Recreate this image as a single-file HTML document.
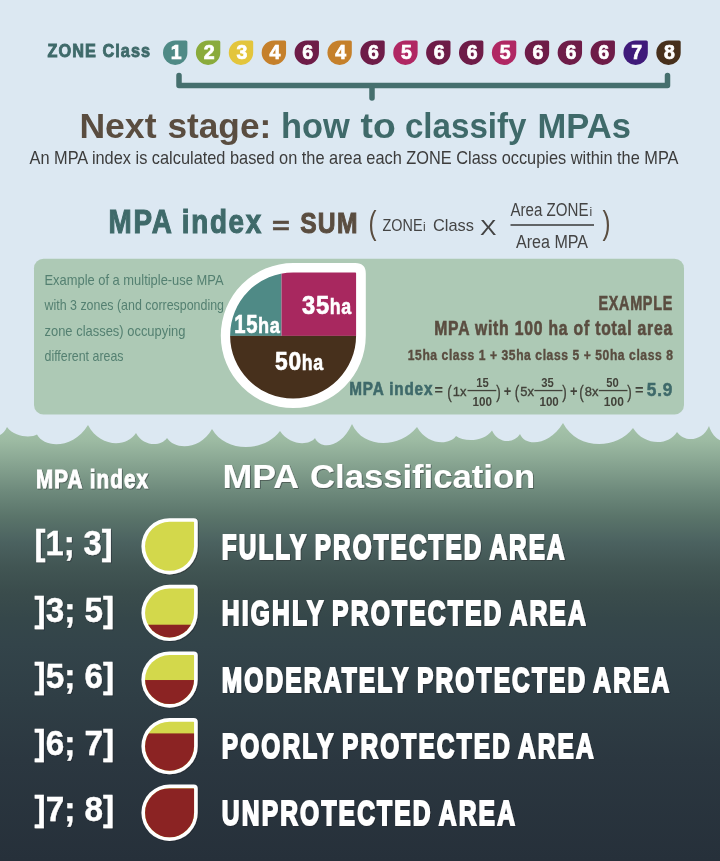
<!DOCTYPE html>
<html lang="en"><head><meta charset="utf-8"><title>MPA Classification</title>
<style>
html,body{margin:0;padding:0;background:#dce8f2;}
body{width:720px;height:861px;overflow:hidden;}
svg{display:block;font-family:"Liberation Sans",sans-serif;}
</style></head><body>
<svg width="720" height="861" viewBox="0 0 720 861">
<rect width="720" height="861" fill="#dce8f2"/>
<text x="47.6" y="56.8" font-size="18.6" font-weight="700" fill="#3f6a6a" text-anchor="start" textLength="103.5" lengthAdjust="spacingAndGlyphs" stroke="#3f6a6a" stroke-width="0.9" letter-spacing="1.2">ZONE Class</text>
<path d="M175.2,40.5 H185.89999999999998 Q187.39999999999998,40.5 187.39999999999998,42.0 V52.7 A12.2,12.2 0 0 1 175.2,64.9 A12.2,12.2 0 0 1 163.0,52.7 A12.2,12.2 0 0 1 175.2,40.5 Z" fill="#4f8a86"/>
<text x="176.2" y="58.6" font-size="19.5" font-weight="700" fill="#fff" text-anchor="middle" stroke="#fff" stroke-width="0.7">1</text>
<path d="M208.09,40.5 H218.79 Q220.29,40.5 220.29,42.0 V52.7 A12.2,12.2 0 0 1 208.09,64.9 A12.2,12.2 0 0 1 195.89000000000001,52.7 A12.2,12.2 0 0 1 208.09,40.5 Z" fill="#8aab3c"/>
<text x="209.09" y="58.6" font-size="19.5" font-weight="700" fill="#fff" text-anchor="middle" stroke="#fff" stroke-width="0.7">2</text>
<path d="M240.97,40.5 H251.67 Q253.17,40.5 253.17,42.0 V52.7 A12.2,12.2 0 0 1 240.97,64.9 A12.2,12.2 0 0 1 228.77,52.7 A12.2,12.2 0 0 1 240.97,40.5 Z" fill="#e3c53c"/>
<text x="241.97" y="58.6" font-size="19.5" font-weight="700" fill="#fff" text-anchor="middle" stroke="#fff" stroke-width="0.7">3</text>
<path d="M273.86,40.5 H284.56 Q286.06,40.5 286.06,42.0 V52.7 A12.2,12.2 0 0 1 273.86,64.9 A12.2,12.2 0 0 1 261.66,52.7 A12.2,12.2 0 0 1 273.86,40.5 Z" fill="#c5802b"/>
<text x="274.86" y="58.6" font-size="19.5" font-weight="700" fill="#fff" text-anchor="middle" stroke="#fff" stroke-width="0.7">4</text>
<path d="M306.75,40.5 H317.45 Q318.95,40.5 318.95,42.0 V52.7 A12.2,12.2 0 0 1 306.75,64.9 A12.2,12.2 0 0 1 294.55,52.7 A12.2,12.2 0 0 1 306.75,40.5 Z" fill="#6e1c48"/>
<text x="307.75" y="58.6" font-size="19.5" font-weight="700" fill="#fff" text-anchor="middle" stroke="#fff" stroke-width="0.7">6</text>
<path d="M339.63,40.5 H350.33 Q351.83,40.5 351.83,42.0 V52.7 A12.2,12.2 0 0 1 339.63,64.9 A12.2,12.2 0 0 1 327.43,52.7 A12.2,12.2 0 0 1 339.63,40.5 Z" fill="#c5802b"/>
<text x="340.63" y="58.6" font-size="19.5" font-weight="700" fill="#fff" text-anchor="middle" stroke="#fff" stroke-width="0.7">4</text>
<path d="M372.52,40.5 H383.21999999999997 Q384.71999999999997,40.5 384.71999999999997,42.0 V52.7 A12.2,12.2 0 0 1 372.52,64.9 A12.2,12.2 0 0 1 360.32,52.7 A12.2,12.2 0 0 1 372.52,40.5 Z" fill="#6e1c48"/>
<text x="373.52" y="58.6" font-size="19.5" font-weight="700" fill="#fff" text-anchor="middle" stroke="#fff" stroke-width="0.7">6</text>
<path d="M405.41,40.5 H416.11 Q417.61,40.5 417.61,42.0 V52.7 A12.2,12.2 0 0 1 405.41,64.9 A12.2,12.2 0 0 1 393.21000000000004,52.7 A12.2,12.2 0 0 1 405.41,40.5 Z" fill="#b02763"/>
<text x="406.41" y="58.6" font-size="19.5" font-weight="700" fill="#fff" text-anchor="middle" stroke="#fff" stroke-width="0.7">5</text>
<path d="M438.29,40.5 H448.99 Q450.49,40.5 450.49,42.0 V52.7 A12.2,12.2 0 0 1 438.29,64.9 A12.2,12.2 0 0 1 426.09000000000003,52.7 A12.2,12.2 0 0 1 438.29,40.5 Z" fill="#6e1c48"/>
<text x="439.29" y="58.6" font-size="19.5" font-weight="700" fill="#fff" text-anchor="middle" stroke="#fff" stroke-width="0.7">6</text>
<path d="M471.18,40.5 H481.88 Q483.38,40.5 483.38,42.0 V52.7 A12.2,12.2 0 0 1 471.18,64.9 A12.2,12.2 0 0 1 458.98,52.7 A12.2,12.2 0 0 1 471.18,40.5 Z" fill="#6e1c48"/>
<text x="472.18" y="58.6" font-size="19.5" font-weight="700" fill="#fff" text-anchor="middle" stroke="#fff" stroke-width="0.7">6</text>
<path d="M504.07,40.5 H514.77 Q516.27,40.5 516.27,42.0 V52.7 A12.2,12.2 0 0 1 504.07,64.9 A12.2,12.2 0 0 1 491.87,52.7 A12.2,12.2 0 0 1 504.07,40.5 Z" fill="#b02763"/>
<text x="505.07" y="58.6" font-size="19.5" font-weight="700" fill="#fff" text-anchor="middle" stroke="#fff" stroke-width="0.7">5</text>
<path d="M536.95,40.5 H547.6500000000001 Q549.1500000000001,40.5 549.1500000000001,42.0 V52.7 A12.2,12.2 0 0 1 536.95,64.9 A12.2,12.2 0 0 1 524.75,52.7 A12.2,12.2 0 0 1 536.95,40.5 Z" fill="#6e1c48"/>
<text x="537.95" y="58.6" font-size="19.5" font-weight="700" fill="#fff" text-anchor="middle" stroke="#fff" stroke-width="0.7">6</text>
<path d="M569.84,40.5 H580.5400000000001 Q582.0400000000001,40.5 582.0400000000001,42.0 V52.7 A12.2,12.2 0 0 1 569.84,64.9 A12.2,12.2 0 0 1 557.64,52.7 A12.2,12.2 0 0 1 569.84,40.5 Z" fill="#6e1c48"/>
<text x="570.84" y="58.6" font-size="19.5" font-weight="700" fill="#fff" text-anchor="middle" stroke="#fff" stroke-width="0.7">6</text>
<path d="M602.73,40.5 H613.4300000000001 Q614.9300000000001,40.5 614.9300000000001,42.0 V52.7 A12.2,12.2 0 0 1 602.73,64.9 A12.2,12.2 0 0 1 590.53,52.7 A12.2,12.2 0 0 1 602.73,40.5 Z" fill="#6e1c48"/>
<text x="603.73" y="58.6" font-size="19.5" font-weight="700" fill="#fff" text-anchor="middle" stroke="#fff" stroke-width="0.7">6</text>
<path d="M635.61,40.5 H646.3100000000001 Q647.8100000000001,40.5 647.8100000000001,42.0 V52.7 A12.2,12.2 0 0 1 635.61,64.9 A12.2,12.2 0 0 1 623.41,52.7 A12.2,12.2 0 0 1 635.61,40.5 Z" fill="#3f1a7a"/>
<text x="636.61" y="58.6" font-size="19.5" font-weight="700" fill="#fff" text-anchor="middle" stroke="#fff" stroke-width="0.7">7</text>
<path d="M668.5,40.5 H679.2 Q680.7,40.5 680.7,42.0 V52.7 A12.2,12.2 0 0 1 668.5,64.9 A12.2,12.2 0 0 1 656.3,52.7 A12.2,12.2 0 0 1 668.5,40.5 Z" fill="#47301c"/>
<text x="669.5" y="58.6" font-size="19.5" font-weight="700" fill="#fff" text-anchor="middle" stroke="#fff" stroke-width="0.7">8</text>
<path d="M179,75.5 V85.5 H667.5 V75.5 M372,85.5 V98" fill="none" stroke="#456f6e" stroke-width="5.5" stroke-linecap="round" stroke-linejoin="round"/>
<text x="79.4" y="137.5" font-size="35" font-weight="700" fill="#5a4d40" text-anchor="start" textLength="77.1" lengthAdjust="spacingAndGlyphs">Next</text>
<text x="167.45" y="137.5" font-size="35" font-weight="700" fill="#5a4d40" text-anchor="start" textLength="103.8" lengthAdjust="spacingAndGlyphs">stage:</text>
<text x="280.95" y="137.5" font-size="35" font-weight="700" fill="#3f6a6a" text-anchor="start" textLength="68.85" lengthAdjust="spacingAndGlyphs">how</text>
<text x="360.55" y="137.5" font-size="35" font-weight="700" fill="#3f6a6a" text-anchor="start" textLength="35.25" lengthAdjust="spacingAndGlyphs">to</text>
<text x="404.95" y="137.5" font-size="35" font-weight="700" fill="#3f6a6a" text-anchor="start" textLength="121.6" lengthAdjust="spacingAndGlyphs">classify</text>
<text x="537.5" y="137.5" font-size="35" font-weight="700" fill="#3f6a6a" text-anchor="start" textLength="93.5" lengthAdjust="spacingAndGlyphs">MPAs</text>
<text x="29.5" y="163.5" font-size="18.5" font-weight="400" fill="#3c3c3c" text-anchor="start" textLength="649" lengthAdjust="spacingAndGlyphs">An MPA index is calculated based on the area each ZONE Class occupies within the MPA</text>
<text x="108.6" y="233" font-size="33" font-weight="700" fill="#3f6a6a" text-anchor="start" textLength="154.3" lengthAdjust="spacingAndGlyphs" stroke="#3f6a6a" stroke-width="1.1" letter-spacing="2">MPA index</text>
<text x="272" y="234.4" font-size="24" font-weight="700" fill="#5a4d40" text-anchor="start" textLength="17.8" lengthAdjust="spacingAndGlyphs" stroke="#5a4d40" stroke-width="0.5">=</text>
<text x="300.2" y="233" font-size="29" font-weight="700" fill="#5a4d40" text-anchor="start" textLength="58.5" lengthAdjust="spacingAndGlyphs" stroke="#5a4d40" stroke-width="1.0" letter-spacing="1.5">SUM</text>
<text x="368.5" y="234" font-size="34" font-weight="400" fill="#5a4d40" text-anchor="start" textLength="8" lengthAdjust="spacingAndGlyphs">(</text>
<text x="382.5" y="231" font-size="17" font-weight="400" fill="#444" text-anchor="start" textLength="40" lengthAdjust="spacingAndGlyphs">ZONE</text>
<text x="423" y="231" font-size="12" font-weight="400" fill="#444" text-anchor="start">i</text>
<text x="433" y="231" font-size="17" font-weight="400" fill="#444" text-anchor="start" textLength="41" lengthAdjust="spacingAndGlyphs">Class</text>
<text x="480" y="234.5" font-size="22" font-weight="400" fill="#444" text-anchor="start" textLength="16.5" lengthAdjust="spacingAndGlyphs">X</text>
<text x="510.5" y="216" font-size="18" font-weight="400" fill="#444" text-anchor="start" textLength="78" lengthAdjust="spacingAndGlyphs">Area ZONE</text>
<text x="589.5" y="216" font-size="12" font-weight="400" fill="#444" text-anchor="start">i</text>
<rect x="510.5" y="224.2" width="83.5" height="1.6" fill="#444"/>
<text x="516" y="247.5" font-size="18" font-weight="400" fill="#444" text-anchor="start" textLength="72" lengthAdjust="spacingAndGlyphs">Area MPA</text>
<text x="602.5" y="234" font-size="34" font-weight="400" fill="#5a4d40" text-anchor="start" textLength="8" lengthAdjust="spacingAndGlyphs">)</text>
<rect x="34" y="258.8" width="650" height="155.7" rx="9.5" fill="#adc9b5"/>
<text x="44.5" y="285" font-size="14.5" font-weight="400" fill="#548071" text-anchor="start" textLength="179" lengthAdjust="spacingAndGlyphs">Example of a multiple-use MPA</text>
<text x="44.5" y="310.3" font-size="14.5" font-weight="400" fill="#548071" text-anchor="start" textLength="179.5" lengthAdjust="spacingAndGlyphs">with 3 zones (and corresponding</text>
<text x="44.5" y="335.8" font-size="14.5" font-weight="400" fill="#548071" text-anchor="start" textLength="141" lengthAdjust="spacingAndGlyphs">zone classes) occupying</text>
<text x="44.5" y="360.8" font-size="14.5" font-weight="400" fill="#548071" text-anchor="start" textLength="79" lengthAdjust="spacingAndGlyphs">different areas</text>
<path d="M293.3,263.05 H355.3 Q365.8,263.05 365.8,273.55 V335.55 A72.5,72.5 0 0 1 293.3,408.05 A72.5,72.5 0 0 1 220.8,335.55 A72.5,72.5 0 0 1 293.3,263.05 Z" fill="#fff"/>
<clipPath id="pc"><path d="M293.1,272.5 H355.3 Q356.1,272.5 356.1,273.3 V335.5 A63.0,63.0 0 0 1 293.1,398.5 A63.0,63.0 0 0 1 230.10000000000002,335.5 A63.0,63.0 0 0 1 293.1,272.5 Z"/></clipPath>
<g clip-path="url(#pc)">
<rect x="220" y="260" width="61.5" height="75.9" fill="#4f8a86"/>
<rect x="281.5" y="260" width="90" height="75.9" fill="#a8285f"/>
<rect x="220" y="335.9" width="150" height="75" fill="#47301c"/>
</g>
<text x="302" y="313.6" font-size="25.5" font-weight="700" fill="#fff" text-anchor="start" textLength="27.8" lengthAdjust="spacingAndGlyphs" stroke="#fff" stroke-width="0.7" letter-spacing="0.8">35</text>
<text x="329.8" y="313.6" font-size="22.5" font-weight="700" fill="#fff" text-anchor="start" textLength="22.0" lengthAdjust="spacingAndGlyphs" stroke="#fff" stroke-width="0.6" letter-spacing="0.8">ha</text>
<text x="234.3" y="333" font-size="25.5" font-weight="700" fill="#fff" text-anchor="start" textLength="23.8" lengthAdjust="spacingAndGlyphs" stroke="#fff" stroke-width="0.7" letter-spacing="0.8">15</text>
<text x="258.1" y="333" font-size="22.5" font-weight="700" fill="#fff" text-anchor="start" textLength="22.5" lengthAdjust="spacingAndGlyphs" stroke="#fff" stroke-width="0.6" letter-spacing="0.8">ha</text>
<text x="275" y="370.2" font-size="25.5" font-weight="700" fill="#fff" text-anchor="start" textLength="26.8" lengthAdjust="spacingAndGlyphs" stroke="#fff" stroke-width="0.7" letter-spacing="0.8">50</text>
<text x="301.8" y="370.2" font-size="22.5" font-weight="700" fill="#fff" text-anchor="start" textLength="22.0" lengthAdjust="spacingAndGlyphs" stroke="#fff" stroke-width="0.6" letter-spacing="0.8">ha</text>
<text x="598.4" y="310" font-size="20" font-weight="700" fill="#5a4d40" text-anchor="start" textLength="74.6" lengthAdjust="spacingAndGlyphs" stroke="#5a4d40" stroke-width="0.6" letter-spacing="1">EXAMPLE</text>
<text x="434.2" y="334.8" font-size="19.5" font-weight="700" fill="#5a4d40" text-anchor="start" textLength="238.8" lengthAdjust="spacingAndGlyphs" stroke="#5a4d40" stroke-width="0.6" letter-spacing="1">MPA with 100 ha of total area</text>
<text x="407.8" y="360" font-size="14.5" font-weight="700" fill="#5a4d40" text-anchor="start" textLength="265.7" lengthAdjust="spacingAndGlyphs" stroke="#5a4d40" stroke-width="0.4" letter-spacing="0.7">15ha class 1 + 35ha class 5 + 50ha class 8</text>
<text x="349.3" y="395" font-size="18" font-weight="700" fill="#3f6a6a" text-anchor="start" textLength="84" lengthAdjust="spacingAndGlyphs" stroke="#3f6a6a" stroke-width="0.6" letter-spacing="1">MPA index</text>
<text x="434.5" y="395" font-size="14" font-weight="700" fill="#42423a" text-anchor="start" textLength="8.5" lengthAdjust="spacingAndGlyphs">=</text>
<text x="447.3" y="397.5" font-size="19" font-weight="400" fill="#42423a" text-anchor="start" textLength="4.5" lengthAdjust="spacingAndGlyphs" stroke="#42423a" stroke-width="0.3">(</text>
<text x="452.8" y="395.6" font-size="13.5" font-weight="400" fill="#42423a" text-anchor="start" textLength="13.7" lengthAdjust="spacingAndGlyphs" stroke="#42423a" stroke-width="0.35">1x</text>
<rect x="467.5" y="389.9" width="28.80000000000001" height="1.3" fill="#42423a"/>
<text x="476.3" y="387" font-size="12.5" font-weight="700" fill="#42423a" text-anchor="start" textLength="12.5" lengthAdjust="spacingAndGlyphs">15</text>
<text x="472.5" y="405.5" font-size="12.5" font-weight="700" fill="#42423a" text-anchor="start" textLength="19.5" lengthAdjust="spacingAndGlyphs">100</text>
<text x="496.3" y="397.5" font-size="19" font-weight="400" fill="#42423a" text-anchor="start" textLength="4.5" lengthAdjust="spacingAndGlyphs" stroke="#42423a" stroke-width="0.3">)</text>
<text x="503.7" y="396" font-size="14" font-weight="700" fill="#42423a" text-anchor="start" textLength="7.5" lengthAdjust="spacingAndGlyphs">+</text>
<text x="514.8" y="397.5" font-size="19" font-weight="400" fill="#42423a" text-anchor="start" textLength="4.5" lengthAdjust="spacingAndGlyphs" stroke="#42423a" stroke-width="0.3">(</text>
<text x="520.3" y="395.6" font-size="13.5" font-weight="400" fill="#42423a" text-anchor="start" textLength="13.7" lengthAdjust="spacingAndGlyphs" stroke="#42423a" stroke-width="0.35">5x</text>
<rect x="534.3" y="389.9" width="28.200000000000045" height="1.3" fill="#42423a"/>
<text x="541.3" y="387" font-size="12.5" font-weight="700" fill="#42423a" text-anchor="start" textLength="12.5" lengthAdjust="spacingAndGlyphs">35</text>
<text x="539.5" y="405.5" font-size="12.5" font-weight="700" fill="#42423a" text-anchor="start" textLength="19.299999999999955" lengthAdjust="spacingAndGlyphs">100</text>
<text x="562.3" y="397.5" font-size="19" font-weight="400" fill="#42423a" text-anchor="start" textLength="4.5" lengthAdjust="spacingAndGlyphs" stroke="#42423a" stroke-width="0.3">)</text>
<text x="570" y="396" font-size="14" font-weight="700" fill="#42423a" text-anchor="start" textLength="7.5" lengthAdjust="spacingAndGlyphs">+</text>
<text x="579.3" y="397.5" font-size="19" font-weight="400" fill="#42423a" text-anchor="start" textLength="4.5" lengthAdjust="spacingAndGlyphs" stroke="#42423a" stroke-width="0.3">(</text>
<text x="584.8" y="395.6" font-size="13.5" font-weight="400" fill="#42423a" text-anchor="start" textLength="13.7" lengthAdjust="spacingAndGlyphs" stroke="#42423a" stroke-width="0.35">8x</text>
<rect x="598.8" y="389.9" width="28.700000000000045" height="1.3" fill="#42423a"/>
<text x="606.3" y="387" font-size="12.5" font-weight="700" fill="#42423a" text-anchor="start" textLength="12.5" lengthAdjust="spacingAndGlyphs">50</text>
<text x="603.8" y="405.5" font-size="12.5" font-weight="700" fill="#42423a" text-anchor="start" textLength="20.0" lengthAdjust="spacingAndGlyphs">100</text>
<text x="627.3" y="397.5" font-size="19" font-weight="400" fill="#42423a" text-anchor="start" textLength="4.5" lengthAdjust="spacingAndGlyphs" stroke="#42423a" stroke-width="0.3">)</text>
<text x="635" y="395" font-size="14" font-weight="700" fill="#42423a" text-anchor="start" textLength="8.5" lengthAdjust="spacingAndGlyphs">=</text>
<text x="646.8" y="395.5" font-size="18.5" font-weight="700" fill="#3f6a6a" text-anchor="start" textLength="26.2" lengthAdjust="spacingAndGlyphs" stroke="#3f6a6a" stroke-width="0.5" letter-spacing="0.8">5.9</text>
<linearGradient id="wg" gradientUnits="userSpaceOnUse" x1="0" y1="423" x2="0" y2="861">
<stop offset="0" stop-color="#a6c4ab"/>
<stop offset="0.039" stop-color="#9dbba3"/>
<stop offset="0.096" stop-color="#86a390"/>
<stop offset="0.155" stop-color="#6e8a7c"/>
<stop offset="0.215" stop-color="#5a746a"/>
<stop offset="0.272" stop-color="#4b6260"/>
<stop offset="0.331" stop-color="#415553"/>
<stop offset="0.388" stop-color="#3a4c4c"/>
<stop offset="0.447" stop-color="#35474a"/>
<stop offset="0.507" stop-color="#33444a"/>
<stop offset="0.632" stop-color="#2f3e45"/>
<stop offset="0.769" stop-color="#2b3740"/>
<stop offset="1" stop-color="#26303a"/>
</linearGradient>
<path d="M-12,433 C-8.5,438.0 2.2,438.0 7,427 C14.9,437.8 31.7,437.8 37,434.5 C44.9,448.8 73.4,448.8 88,425 C99.9,447.7 126.8,447.7 136,433 C143.5,446.8 160.8,446.8 167,438 C174.9,450.2 200.1,450.2 212,429 C225.6,452.7 263.7,452.7 280,431 C289.7,445.8 309.3,445.8 315,438 C319.8,449.4 340.5,449.4 352,424 C363.0,448.8 399.4,448.8 417,427 C427.6,445.5 449.4,445.5 456,436 C463.9,442.2 484.1,442.2 492,430.5 C498.2,443.9 513.8,443.9 520,434 C524.8,446.5 548.9,446.5 563,423 C577.1,450.2 616.3,450.2 633,428 C644.0,446.0 668.7,446.0 677,432 C684.0,442.3 702.0,442.3 709,426 C714.7,443.7 729.3,443.7 735,440 V861 H-12 Z" fill="url(#wg)"/>
<filter id="ts" x="-5%" y="-20%" width="110%" height="150%"><feDropShadow dx="0.8" dy="0.8" stdDeviation="0.7" flood-color="#1a2228" flood-opacity="0.55"/></filter>
<text x="36" y="488" font-size="25" font-weight="700" fill="#fff" text-anchor="start" textLength="113.2" lengthAdjust="spacingAndGlyphs" filter="url(#ts)" stroke="#fff" stroke-width="0.9" letter-spacing="1.4">MPA index</text>
<text x="222.4" y="487.5" font-size="33" font-weight="700" fill="#fff" text-anchor="start" textLength="76.8" lengthAdjust="spacingAndGlyphs" filter="url(#ts)">MPA</text>
<text x="310" y="487.5" font-size="33" font-weight="700" fill="#fff" text-anchor="start" textLength="225.3" lengthAdjust="spacingAndGlyphs" filter="url(#ts)">Classification</text>
<text x="34.6" y="555.1" font-size="35.5" font-weight="700" fill="#fff" text-anchor="start" textLength="78.1" lengthAdjust="spacingAndGlyphs" filter="url(#ts)" stroke="#fff" stroke-width="0.4">[1; 3]</text>
<text x="221.8" y="558.7" font-size="35.4" font-weight="700" fill="#fff" text-anchor="start" textLength="344.8" lengthAdjust="spacingAndGlyphs" letter-spacing="3.2" word-spacing="-3" filter="url(#ts)" stroke="#fff" stroke-width="2.0">FULLY PROTECTED AREA</text>
<path d="M169.55,518.2 H193.70000000000002 Q197.70000000000002,518.2 197.70000000000002,522.2 V546.35 A28.15,28.15 0 0 1 169.55,574.5 A28.15,28.15 0 0 1 141.4,546.35 A28.15,28.15 0 0 1 169.55,518.2 Z" fill="#fff" filter="url(#ts)"/>
<clipPath id="dc0"><path d="M169.55,521.85 H193.45000000000002 Q194.05,521.85 194.05,522.45 V546.35 A24.5,24.5 0 0 1 169.55,570.85 A24.5,24.5 0 0 1 145.05,546.35 A24.5,24.5 0 0 1 169.55,521.85 Z"/></clipPath>
<path d="M169.55,521.85 H193.45000000000002 Q194.05,521.85 194.05,522.45 V546.35 A24.5,24.5 0 0 1 169.55,570.85 A24.5,24.5 0 0 1 145.05,546.35 A24.5,24.5 0 0 1 169.55,521.85 Z" fill="#d3d84b"/>
<text x="34.6" y="621.6" font-size="35.5" font-weight="700" fill="#fff" text-anchor="start" textLength="79.4" lengthAdjust="spacingAndGlyphs" filter="url(#ts)" stroke="#fff" stroke-width="0.4">]3; 5]</text>
<text x="221.8" y="625.2" font-size="35.4" font-weight="700" fill="#fff" text-anchor="start" textLength="366.1" lengthAdjust="spacingAndGlyphs" letter-spacing="3.2" word-spacing="-3" filter="url(#ts)" stroke="#fff" stroke-width="2.0">HIGHLY PROTECTED AREA</text>
<path d="M169.55,584.8000000000001 H193.70000000000002 Q197.70000000000002,584.8000000000001 197.70000000000002,588.8000000000001 V612.95 A28.15,28.15 0 0 1 169.55,641.1 A28.15,28.15 0 0 1 141.4,612.95 A28.15,28.15 0 0 1 169.55,584.8000000000001 Z" fill="#fff" filter="url(#ts)"/>
<clipPath id="dc1"><path d="M169.55,588.45 H193.45000000000002 Q194.05,588.45 194.05,589.0500000000001 V612.95 A24.5,24.5 0 0 1 169.55,637.45 A24.5,24.5 0 0 1 145.05,612.95 A24.5,24.5 0 0 1 169.55,588.45 Z"/></clipPath>
<path d="M169.55,588.45 H193.45000000000002 Q194.05,588.45 194.05,589.0500000000001 V612.95 A24.5,24.5 0 0 1 169.55,637.45 A24.5,24.5 0 0 1 145.05,612.95 A24.5,24.5 0 0 1 169.55,588.45 Z" fill="#d3d84b"/>
<rect x="144.05" y="624.71" width="51.0" height="51.0" fill="#8b2323" clip-path="url(#dc1)"/>
<text x="34.6" y="688.1" font-size="35.5" font-weight="700" fill="#fff" text-anchor="start" textLength="79.4" lengthAdjust="spacingAndGlyphs" filter="url(#ts)" stroke="#fff" stroke-width="0.4">]5; 6]</text>
<text x="221.8" y="691.7" font-size="35.4" font-weight="700" fill="#fff" text-anchor="start" textLength="449.5" lengthAdjust="spacingAndGlyphs" letter-spacing="3.2" word-spacing="-3" filter="url(#ts)" stroke="#fff" stroke-width="2.0">MODERATELY PROTECTED AREA</text>
<path d="M169.55,651.4 H193.70000000000002 Q197.70000000000002,651.4 197.70000000000002,655.4 V679.55 A28.15,28.15 0 0 1 169.55,707.6999999999999 A28.15,28.15 0 0 1 141.4,679.55 A28.15,28.15 0 0 1 169.55,651.4 Z" fill="#fff" filter="url(#ts)"/>
<clipPath id="dc2"><path d="M169.55,655.05 H193.45000000000002 Q194.05,655.05 194.05,655.65 V679.55 A24.5,24.5 0 0 1 169.55,704.05 A24.5,24.5 0 0 1 145.05,679.55 A24.5,24.5 0 0 1 169.55,655.05 Z"/></clipPath>
<path d="M169.55,655.05 H193.45000000000002 Q194.05,655.05 194.05,655.65 V679.55 A24.5,24.5 0 0 1 169.55,704.05 A24.5,24.5 0 0 1 145.05,679.55 A24.5,24.5 0 0 1 169.55,655.05 Z" fill="#d3d84b"/>
<rect x="144.05" y="680.04" width="51.0" height="51.0" fill="#8b2323" clip-path="url(#dc2)"/>
<text x="34.6" y="754.6" font-size="35.5" font-weight="700" fill="#fff" text-anchor="start" textLength="79.4" lengthAdjust="spacingAndGlyphs" filter="url(#ts)" stroke="#fff" stroke-width="0.4">]6; 7]</text>
<text x="221.8" y="758.2" font-size="35.4" font-weight="700" fill="#fff" text-anchor="start" textLength="373.9" lengthAdjust="spacingAndGlyphs" letter-spacing="3.2" word-spacing="-3" filter="url(#ts)" stroke="#fff" stroke-width="2.0">POORLY PROTECTED AREA</text>
<path d="M169.55,718.0 H193.70000000000002 Q197.70000000000002,718.0 197.70000000000002,722.0 V746.15 A28.15,28.15 0 0 1 169.55,774.3 A28.15,28.15 0 0 1 141.4,746.15 A28.15,28.15 0 0 1 169.55,718.0 Z" fill="#fff" filter="url(#ts)"/>
<clipPath id="dc3"><path d="M169.55,721.65 H193.45000000000002 Q194.05,721.65 194.05,722.25 V746.15 A24.5,24.5 0 0 1 169.55,770.65 A24.5,24.5 0 0 1 145.05,746.15 A24.5,24.5 0 0 1 169.55,721.65 Z"/></clipPath>
<path d="M169.55,721.65 H193.45000000000002 Q194.05,721.65 194.05,722.25 V746.15 A24.5,24.5 0 0 1 169.55,770.65 A24.5,24.5 0 0 1 145.05,746.15 A24.5,24.5 0 0 1 169.55,721.65 Z" fill="#d3d84b"/>
<rect x="144.05" y="733.41" width="51.0" height="51.0" fill="#8b2323" clip-path="url(#dc3)"/>
<text x="34.6" y="821.1" font-size="35.5" font-weight="700" fill="#fff" text-anchor="start" textLength="79.4" lengthAdjust="spacingAndGlyphs" filter="url(#ts)" stroke="#fff" stroke-width="0.4">]7; 8]</text>
<text x="221.8" y="824.7" font-size="35.4" font-weight="700" fill="#fff" text-anchor="start" textLength="295.3" lengthAdjust="spacingAndGlyphs" letter-spacing="3.2" word-spacing="-3" filter="url(#ts)" stroke="#fff" stroke-width="2.0">UNPROTECTED AREA</text>
<path d="M169.55,784.6 H193.70000000000002 Q197.70000000000002,784.6 197.70000000000002,788.6 V812.75 A28.15,28.15 0 0 1 169.55,840.9 A28.15,28.15 0 0 1 141.4,812.75 A28.15,28.15 0 0 1 169.55,784.6 Z" fill="#fff" filter="url(#ts)"/>
<clipPath id="dc4"><path d="M169.55,788.25 H193.45000000000002 Q194.05,788.25 194.05,788.85 V812.75 A24.5,24.5 0 0 1 169.55,837.25 A24.5,24.5 0 0 1 145.05,812.75 A24.5,24.5 0 0 1 169.55,788.25 Z"/></clipPath>
<path d="M169.55,788.25 H193.45000000000002 Q194.05,788.25 194.05,788.85 V812.75 A24.5,24.5 0 0 1 169.55,837.25 A24.5,24.5 0 0 1 145.05,812.75 A24.5,24.5 0 0 1 169.55,788.25 Z" fill="#d3d84b"/>
<rect x="144.05" y="788.25" width="51.0" height="51.0" fill="#8b2323" clip-path="url(#dc4)"/>
</svg>
</body></html>
